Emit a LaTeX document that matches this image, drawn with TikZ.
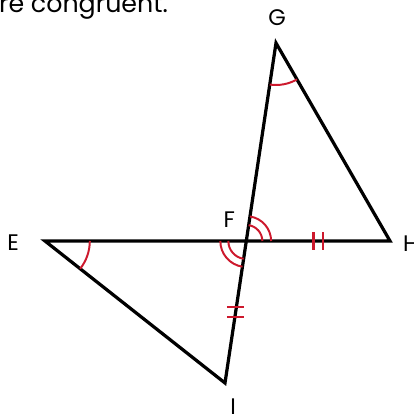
\documentclass[tikz,border=0pt]{standalone}
\usepackage{fontspec}
\setmainfont{Poppins}
\usepackage{xcolor}
\usepackage{tikz}
\usetikzlibrary{calc,angles}
\definecolor{markred}{RGB}{205,25,45}

\begin{document}
\begin{tikzpicture}[
  font=\fontsize{16}{18}\selectfont,
  side/.style={line width=2.3pt,line join=miter},
  arcmark/.style={draw=markred,line width=1.4pt},
  tickmark/.style={draw=markred,line width=1.7pt},
  lbl/.style={inner sep=0pt}
]
\useasboundingbox (0,0) rectangle (10.325,10.475);
\clip (0,0) rectangle (10.325,10.475);

% vertices
\coordinate (G) at (6.9,9.4);
\coordinate (H) at (9.75,4.45);
\coordinate (E) at (1.125,4.45);
\coordinate (I) at (5.625,0.9);
\coordinate (F) at (intersection of G--I and E--H);

% sides
\draw[side] (I) -- (E) -- (H) -- (G) -- cycle;

% angle marks
\pic[arcmark,angle radius=1.05cm] {angle=I--G--H};
\pic[arcmark,angle radius=1.12cm] {angle=I--E--H};
\pic[arcmark,angle radius=0.4cm] {angle=H--F--G};
\pic[arcmark,angle radius=0.62cm] {angle=H--F--G};
\pic[arcmark,angle radius=0.45cm] {angle=E--F--I};
\pic[arcmark,angle radius=0.65cm] {angle=E--F--I};

% equal sides
\coordinate (fh) at ($(F)!0.5!(H)$);
\coordinate (fi) at ($(F)!0.5!(I)$);
\draw[tickmark] ($(fh)+(-0.12,-0.22)$) -- ++(0,0.44);
\draw[tickmark] ($(fh)+(0.12,-0.22)$) -- ++(0,0.44);
\draw[tickmark] ($(fi)+(-0.22,0.13)$) -- ++(0.44,0);
\draw[tickmark] ($(fi)+(-0.22,-0.13)$) -- ++(0.44,0);

% labels
\node[lbl] (labG) at (6.925,10.03) {G};
\node[lbl] (labE) at (0.33,4.4) {E};
\node[lbl] (labF) at (5.73,4.98) {F};
\node[lbl] (labH) at (10.27,4.38) {H};
\node[lbl] (labI) at (5.83,0.3) {I};
\node[lbl,anchor=base west,font=\fontsize{18}{20}\selectfont] (note) at (-0.03,10.17) {re congruent.};
\end{tikzpicture}
\end{document}
